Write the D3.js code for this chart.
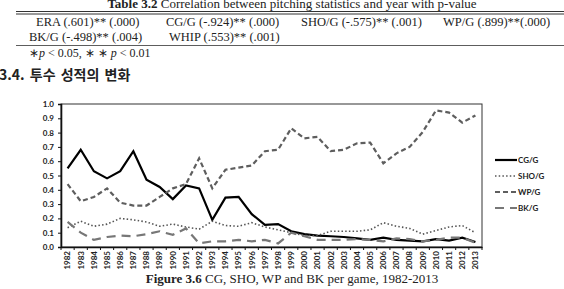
<!DOCTYPE html>
<html>
<head>
<meta charset="utf-8">
<script src="https://cdn.jsdelivr.net/npm/d3@7"></script>
<style>
  body { margin: 0; background: #fff; }
  svg { display: block; }
  .serif { font-family: "Liberation Serif", serif; fill: #222; }
  .axis text { font-family: Lato, "Open Sans", sans-serif; font-weight: bold; font-size: 8px; fill: #222; }
</style>
</head>
<body>
<svg id="page" width="564" height="289"></svg>
<script>
// years on the x axis
var years = d3.range(1982, 2014).map(String);

// per game values
var cgG = [0.55, 0.68, 0.53, 0.48, 0.53, 0.67, 0.47, 0.42, 0.335, 0.43,
           0.41, 0.19, 0.345, 0.35, 0.23, 0.155, 0.16, 0.11, 0.09, 0.08,
           0.075, 0.07, 0.06, 0.05, 0.065, 0.05, 0.045, 0.04, 0.055, 0.045, 0.065, 0.035];
var shoG = [0.135, 0.18, 0.145, 0.16, 0.20, 0.19, 0.175, 0.145, 0.16, 0.14,
            0.125, 0.18, 0.15, 0.145, 0.17, 0.14, 0.12, 0.10, 0.08, 0.08,
            0.11, 0.11, 0.11, 0.12, 0.17, 0.145, 0.13, 0.09, 0.115, 0.14, 0.15, 0.10];
var wpG = [0.44, 0.32, 0.35, 0.41, 0.31, 0.29, 0.29, 0.35, 0.41, 0.44,
           0.62, 0.41, 0.54, 0.555, 0.57, 0.67, 0.68, 0.83, 0.76, 0.77,
           0.67, 0.68, 0.725, 0.73, 0.585, 0.655, 0.70, 0.805, 0.955, 0.94, 0.87, 0.92];
var bkG = [0.175, 0.10, 0.05, 0.07, 0.08, 0.075, 0.09, 0.11, 0.085, 0.13,
           0.025, 0.04, 0.04, 0.05, 0.04, 0.05, 0.025, 0.10, 0.075, 0.05,
           0.05, 0.05, 0.055, 0.05, 0.04, 0.06, 0.055, 0.04, 0.05, 0.065, 0.065, 0.03];

var seriesNames = ["CG/G", "SHO/G", "WP/G", "BK/G"];
var yTicks = [0, 0.1, 0.2, 0.3, 0.4, 0.5, 0.6, 0.7, 0.8, 0.9, 1.0];

// table text
var tableRow1 = ["ERA (.601)** (.000)", "CG/G (-.924)** (.000)", "SHO/G (-.575)** (.001)", "WP/G (.899)**(.000)"];
var tableRow2 = ["BK/G (-.498)** (.004)", "WHIP (.553)** (.001)"];

draw();

function draw(){
  var svg = d3.select("#page");

  // ---- table part ----
  svg.append("text").attr("class", "serif")
     .attr("x", 292).attr("y", 8).attr("text-anchor", "middle").style("font-size", "13px")
     .html('<tspan font-weight="bold">Table 3.2</tspan> Correlation between pitching statistics and year with p-value');

  svg.append("line").attr("x1", 16).attr("x2", 564).attr("y1", 11.5).attr("y2", 11.5).attr("stroke", "#333").attr("stroke-width", 1);
  svg.append("line").attr("x1", 16).attr("x2", 564).attr("y1", 14).attr("y2", 14).attr("stroke", "#333").attr("stroke-width", 1);

  var row1x = [36, 166, 301, 443];
  svg.selectAll(".r1").data(tableRow1).enter().append("text")
     .attr("class", "serif r1")
     .attr("x", function(d, i) { return row1x[i]; })
     .attr("y", 26).style("font-size", "12.5px")
     .text(function(d) { return d; });

  var row2x = [29, 169];
  svg.selectAll(".r2").data(tableRow2).enter().append("text")
     .attr("class", "serif r2")
     .attr("x", function(d, i) { return row2x[i]; })
     .attr("y", 41).style("font-size", "12.5px")
     .text(function(d) { return d; });

  svg.append("line").attr("x1", 16).attr("x2", 564).attr("y1", 45.5).attr("y2", 45.5).attr("stroke", "#333").attr("stroke-width", 0.8);

  svg.append("text").attr("class", "serif")
     .attr("x", 29).attr("y", 57).style("font-size", "12px")
     .html('\u2217<tspan font-style="italic">p</tspan> &lt; 0.05,  \u2217 \u2217 <tspan font-style="italic">p</tspan> &lt; 0.01');

  // section heading
  svg.append("text")
     .attr("x", -1).attr("y", 80)
     .style("font-family", "'Noto Sans CJK KR', sans-serif").style("font-weight", "bold")
     .style("font-size", "14px").style("fill", "#222").style("word-spacing", "2px")
     .text("3.4.  투수 성적의 변화");

  // ---- chart ----
  var pl = 61, pr = 482, pt = 104, pb = 247;

  var x = d3.scaleBand().domain(years).range([pl, pr]);
  var y = d3.scaleLinear().domain([0, 1]).range([pb, pt]);

  // frame
  svg.append("rect").attr("x", pl).attr("y", pt).attr("width", pr - pl).attr("height", pb - pt)
     .attr("fill", "none").attr("stroke", "#333").attr("stroke-width", 1);

  // y axis
  var yAxis = svg.append("g").attr("class", "axis")
     .attr("transform", "translate(" + pl + ",0)")
     .call(d3.axisLeft(y).tickValues(yTicks).tickFormat(d3.format(".1f")).tickSize(3).tickPadding(4));
  yAxis.select(".domain").attr("stroke", "#111").attr("stroke-width", 1.6);
  yAxis.selectAll(".tick line").attr("stroke", "#111");

  // x axis, ticks between categories
  var xAxis = svg.append("g").attr("class", "axis")
     .attr("transform", "translate(0," + pb + ")")
     .call(d3.axisBottom(x).tickSize(0).tickPadding(4));
  xAxis.select(".domain").attr("stroke", "#111").attr("stroke-width", 1.6);
  xAxis.selectAll(".tick text")
     .attr("transform", "rotate(-90)")
     .attr("x", -4).attr("y", 0).attr("dy", "0.35em")
     .attr("text-anchor", "end");
  var bounds = years.map(function(d) { return x(d); }).concat([x(years[years.length - 1]) + x.bandwidth()]);
  svg.append("g").selectAll("line").data(bounds).enter().append("line")
     .attr("x1", function(d) { return d; }).attr("x2", function(d) { return d; })
     .attr("y1", pb).attr("y2", pb + 3)
     .attr("stroke", "#111").attr("stroke-width", 1);

  // lines
  var styles = [
    { data: cgG, color: "#000", width: 2.2, dash: null },
    { data: shoG, color: "#555", width: 1.6, dash: "1.5,2.2" },
    { data: wpG, color: "#5e5e5e", width: 2.2, dash: "5,3" },
    { data: bkG, color: "#777", width: 2.2, dash: "9,6" }
  ];

  var line = d3.line()
     .x(function(d, i) { return x(years[i]) + x.bandwidth() / 2; })
     .y(function(d) { return y(d); });

  styles.forEach(function(s) {
    svg.append("path").datum(s.data)
       .attr("d", line)
       .attr("fill", "none")
       .attr("stroke", s.color)
       .attr("stroke-width", s.width)
       .attr("stroke-dasharray", s.dash);
  });

  // legend
  var legend = svg.append("g").attr("transform", "translate(495,160)");
  seriesNames.forEach(function(n, i) {
    var g = legend.append("g").attr("transform", "translate(0," + (i * 16) + ")");
    g.append("line").attr("x1", 0).attr("x2", 22).attr("y1", 0).attr("y2", 0)
     .attr("stroke", styles[i].color).attr("stroke-width", styles[i].width)
     .attr("stroke-dasharray", styles[i].dash);
    g.append("text").attr("x", 23).attr("y", 0).attr("dy", "0.35em")
     .style("font-family", "Lato, 'Open Sans', sans-serif").style("font-weight", "bold")
     .style("font-size", "8px").style("fill", "#222")
     .text(n);
  });

  // caption
  svg.append("text").attr("class", "serif")
     .attr("x", 292).attr("y", 283).attr("text-anchor", "middle").style("font-size", "13px")
     .html('<tspan font-weight="bold">Figure 3.6</tspan> CG, SHO, WP and BK per game, 1982-2013');
}
</script>
</body>
</html>
